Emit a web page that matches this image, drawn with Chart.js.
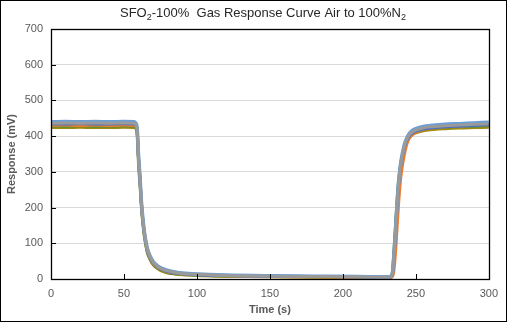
<!DOCTYPE html>
<html>
<head>
<meta charset="utf-8">
<script src="https://cdn.jsdelivr.net/npm/chart.js@4/dist/chart.umd.min.js"></script>
<style>
  html, body { margin: 0; padding: 0; background: #fff; }
  #box { position: absolute; left: 0; top: 0; width: 505px; height: 320px; border: 1px solid #000; }
  canvas { display: block; }
</style>
</head>
<body>
<div id="box"><canvas id="c" width="505" height="320"></canvas></div>
<script>
// time axis (s)
let times = [0,10,20,30,40,50,57,58,59,60,61,62,63,64,65,66,68,70,73,76,80,85,90,100,120,150,180,210,230,
  232,233,234,235,236,237,238,239,240,242,244,246,248,250,255,260,270,280,290,300];

// responses (mV)
let run1 = [440,441,440,441,440,441,440,437,426,345,285,215,168,132,106,86,64,49,37,30,24,20,17,14,11,9,8,7,6,
  6,8,18,70,135,205,265,305,335,375,397,410,417,421,427,430,433,435,437,439];
let run2 = [436,437,436,437,436,437,436,433,420,340,280,212,165,130,104,84,62,47,35,28,22,18,15,13,10,8,7,6,5,
  5,7,16,65,128,198,258,300,330,370,393,406,413,417,423,426,429,431,433,435];
let run3 = [434,434,435,434,434,435,434,431,418,338,278,210,163,128,102,82,60,46,34,27,21,17,15,12,10,8,7,6,5,
  5,7,15,62,125,195,255,297,327,367,390,403,410,414,420,423,426,428,430,432];
let run4 = [430,431,430,431,430,431,430,428,416,336,276,208,161,126,100,80,58,44,33,26,20,17,14,12,9,7,6,5,4,
  4,5,7,25,70,135,200,255,295,345,380,397,406,411,419,422,426,428,430,432];
let run5 = [428,428,429,428,428,429,428,424,405,320,262,198,152,118,94,74,54,41,31,24,19,15,13,11,8,7,6,5,4,
  5,9,22,80,145,212,268,305,332,368,390,402,409,413,419,422,425,427,428,429];
let run6 = [424,424,425,424,424,425,424,422,412,335,274,205,158,122,96,76,55,40,29,22,17,14,12,10,8,6,5,4,3,
  3,5,14,60,122,190,250,292,322,362,385,398,405,409,415,418,421,423,424,425];

let xTicks = [0,50,100,150,200,250,300];
let yTicks = [0,100,200,300,400,500,600,700];

function pts(vals) {
  return times.map((t, i) => ({ x: t, y: vals[i] }));
}

// first entry is drawn on top
let runs = [
  { data: run2, color: '#9A9A9A', width: 3 },
  { data: run1, color: '#6A9FD6', width: 3.5 },
  { data: run3, color: '#4472C4', width: 3 },
  { data: run4, color: '#ED7D31', width: 3 },
  { data: run5, color: '#5E8F3A', width: 3 },
  { data: run6, color: '#A08A10', width: 3 }
];

let datasets = runs.map(r => ({
  data: pts(r.data),
  borderColor: r.color,
  borderWidth: r.width,
  pointRadius: 0,
  cubicInterpolationMode: 'monotone',
  borderCapStyle: 'round',
  borderJoinStyle: 'round',
  fill: false
}));

// box, inward tick marks and title with subscripts
let decor = {
  id: 'decor',
  afterDraw(chart) {
    let ctx = chart.ctx;
    let a = chart.chartArea;
    let xs = chart.scales.x, ys = chart.scales.y;
    ctx.save();
    ctx.strokeStyle = '#000';
    ctx.lineWidth = 1;
    ctx.beginPath();
    xTicks.forEach(v => {
      let px = Math.round(xs.getPixelForValue(v)) + 0.5;
      ctx.moveTo(px, a.bottom);
      ctx.lineTo(px, a.bottom - 5);
    });
    yTicks.forEach(v => {
      let py = Math.round(ys.getPixelForValue(v)) + 0.5;
      ctx.moveTo(a.left, py);
      ctx.lineTo(a.left + 5, py);
    });
    ctx.stroke();
    ctx.lineWidth = 1.3;
    ctx.strokeRect(Math.round(a.left) + 0.5, Math.round(a.top) + 0.5,
      Math.round(a.right - a.left), Math.round(a.bottom - a.top));

    // title
    let parts = [
      ['SFO', false], ['2', true], ['-100%  Gas Response Curve Air to 100%N', false], ['2', true]
    ];
    let big = '13px "Liberation Sans", Arial, sans-serif';
    let small = '9px "Liberation Sans", Arial, sans-serif';
    let w = 0;
    parts.forEach(p => { ctx.font = p[1] ? small : big; w += ctx.measureText(p[0]).width; });
    let x = 262 - w / 2;
    let y = 16;
    ctx.fillStyle = '#262626';
    ctx.textBaseline = 'alphabetic';
    ctx.textAlign = 'left';
    parts.forEach(p => {
      ctx.font = p[1] ? small : big;
      ctx.fillText(p[0], x, p[1] ? y + 3 : y);
      x += ctx.measureText(p[0]).width;
    });
    ctx.restore();
  }
};

new Chart(document.getElementById('c'), {
  type: 'line',
  data: { datasets: datasets },
  plugins: [decor],
  options: {
    responsive: false,
    animation: false,
    layout: { padding: { left: 0, right: 16, top: 28, bottom: 0 } },
    plugins: { legend: { display: false }, tooltip: { enabled: false } },
    scales: {
      x: {
        type: 'linear',
        min: 0, max: 300,
        afterFit(s) { s.height = 42; },
        afterBuildTicks(s) { s.ticks = xTicks.map(v => ({ value: v })); },
        grid: { display: false, drawTicks: false },
        border: { display: false },
        ticks: { color: '#595959', padding: 8, maxRotation: 0,
          font: { family: '"Liberation Sans", Arial, sans-serif', size: 11 } },
        title: { display: true, text: 'Time (s)', color: '#595959', padding: { top: 2, bottom: 4 },
          font: { family: '"Liberation Sans", Arial, sans-serif', size: 11, weight: 'bold' } }
      },
      y: {
        min: 0, max: 700,
        afterFit(s) { s.width = 50; },
        afterBuildTicks(s) { s.ticks = yTicks.map(v => ({ value: v })); },
        grid: { color: '#D9D9D9', lineWidth: 1, drawTicks: false },
        border: { display: false },
        ticks: { color: '#595959', padding: 8,
          font: { family: '"Liberation Sans", Arial, sans-serif', size: 11 } },
        title: { display: true, text: 'Response (mV)', color: '#595959', padding: { top: 4, bottom: 0 },
          font: { family: '"Liberation Sans", Arial, sans-serif', size: 11, weight: 'bold' } }
      }
    }
  }
});
</script>
</body>
</html>
